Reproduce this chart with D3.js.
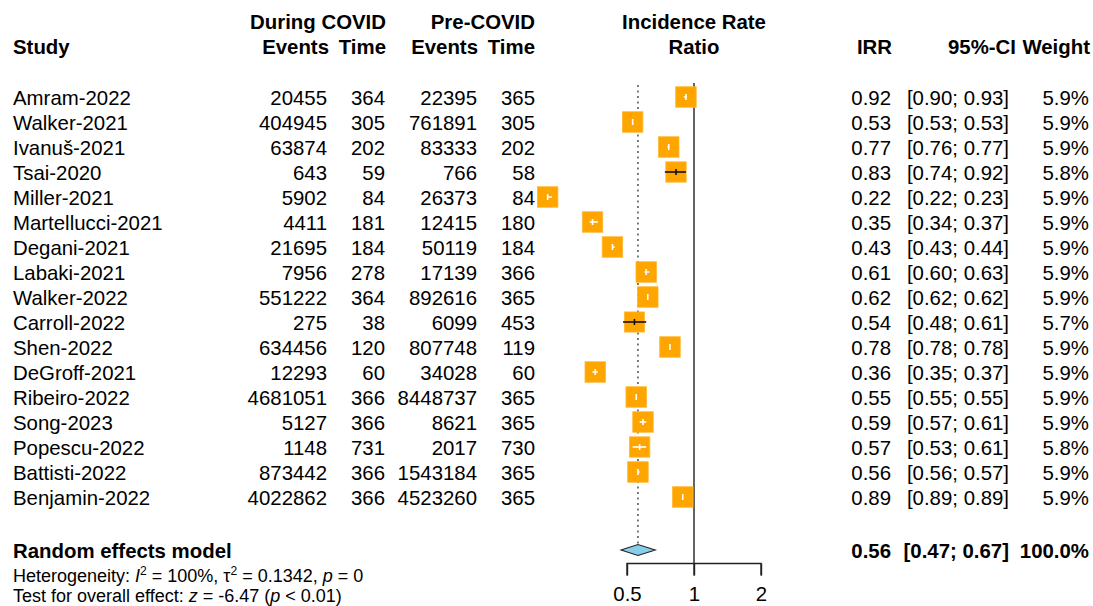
<!DOCTYPE html>
<html>
<head>
<meta charset="utf-8">
<script src="https://cdn.jsdelivr.net/npm/d3@7"></script>
<style>
  html, body { margin: 0; padding: 0; background: #fff; }
  svg { display: block; }
  text { font-family: "Liberation Sans", Arial, sans-serif; fill: #000; }
</style>
</head>
<body>
<svg id="chart" width="1093" height="606"></svg>
<script>
// Study-level data
const studies = ["Amram-2022","Walker-2021","Ivanuš-2021","Tsai-2020","Miller-2021","Martellucci-2021",
  "Degani-2021","Labaki-2021","Walker-2022","Carroll-2022","Shen-2022","DeGroff-2021","Ribeiro-2022",
  "Song-2023","Popescu-2022","Battisti-2022","Benjamin-2022"];
const duringEvents = [20455,404945,63874,643,5902,4411,21695,7956,551222,275,634456,12293,4681051,5127,1148,873442,4022862];
const duringTime   = [364,305,202,59,84,181,184,278,364,38,120,60,366,366,731,366,366];
const preEvents    = [22395,761891,83333,766,26373,12415,50119,17139,892616,6099,807748,34028,8448737,8621,2017,1543184,4523260];
const preTime      = [365,305,202,58,84,180,184,366,365,453,119,60,365,365,730,365,365];
const irr          = [0.92,0.53,0.77,0.83,0.22,0.35,0.43,0.61,0.62,0.54,0.78,0.36,0.55,0.59,0.57,0.56,0.89];
const ciLower      = [0.90,0.53,0.76,0.74,0.22,0.34,0.43,0.60,0.62,0.48,0.78,0.35,0.55,0.57,0.53,0.56,0.89];
const ciUpper      = [0.93,0.53,0.77,0.92,0.23,0.37,0.44,0.63,0.62,0.61,0.78,0.37,0.55,0.61,0.61,0.57,0.89];
const weights      = [5.9,5.9,5.9,5.8,5.9,5.9,5.9,5.9,5.9,5.7,5.9,5.9,5.9,5.9,5.8,5.9,5.9];

// Pooled random effects estimate
const pooled = { irr: 0.56, lower: 0.47, upper: 0.67, weight: 100.0 };
const axisTicks = [0.5, 1, 2];

const svg = d3.select("#chart");
const FS = 20.4;

const x = d3.scaleLog().domain([0.5, 2]).range([627, 761]);
const y = d3.scalePoint().domain(studies).range([97, 497]);
const boxSize = d3.scaleSqrt().domain([0, 5.9]).range([0, 20.5]);

const fmt2 = d3.format(".2f");
const fmt1 = d3.format(".1f");

// Column headers
const hdr = svg.append("g").attr("font-weight", "bold").style("font-size", FS + "px");
const headerRows = [
  { t: "During COVID", x: 386, y: 29, a: "end" },
  { t: "Pre-COVID", x: 535, y: 29, a: "end" },
  { t: "Incidence Rate", x: x(1), y: 29, a: "middle" },
  { t: "Study", x: 13, y: 54, a: "start" },
  { t: "Events", x: 329, y: 54, a: "end" },
  { t: "Time", x: 386, y: 54, a: "end" },
  { t: "Events", x: 478, y: 54, a: "end" },
  { t: "Time", x: 535, y: 54, a: "end" },
  { t: "Ratio", x: x(1), y: 54, a: "middle" },
  { t: "IRR", x: 892, y: 54, a: "end" },
  { t: "95%-CI", x: 1016, y: 54, a: "end" },
  { t: "Weight", x: 1090, y: 54, a: "end" }
];
hdr.selectAll("text").data(headerRows).join("text")
  .attr("x", d => d.x).attr("y", d => d.y).attr("text-anchor", d => d.a).text(d => d.t);

// Table columns
const rows = studies.map((s, i) => ({
  study: s, de: duringEvents[i], dt: duringTime[i], pe: preEvents[i], pt: preTime[i],
  irr: irr[i], lo: ciLower[i], hi: ciUpper[i], w: weights[i]
}));

const cols = [
  { x: 13,   a: "start", f: d => d.study },
  { x: 327,  a: "end",   f: d => d.de },
  { x: 385,  a: "end",   f: d => d.dt },
  { x: 477,  a: "end",   f: d => d.pe },
  { x: 535,  a: "end",   f: d => d.pt },
  { x: 891,  a: "end",   f: d => fmt2(d.irr) },
  { x: 1009, a: "end",   f: d => "[" + fmt2(d.lo) + "; " + fmt2(d.hi) + "]" },
  { x: 1089, a: "end",   f: d => fmt1(d.w) + "%" }
];
const tbl = svg.append("g").style("font-size", FS + "px");
cols.forEach(c => {
  tbl.append("g").selectAll("text").data(rows).join("text")
    .attr("x", c.x).attr("y", d => y(d.study) + 7.5)
    .attr("text-anchor", c.a).text(c.f);
});

// Reference lines: line of no effect and pooled estimate
svg.append("line")
  .attr("x1", x(1)).attr("x2", x(1)).attr("y1", 83).attr("y2", 575.5)
  .attr("stroke", "#222").attr("stroke-width", 1.4);
svg.append("line")
  .attr("x1", x(pooled.irr)).attr("x2", x(pooled.irr)).attr("y1", 85).attr("y2", 544)
  .attr("stroke", "#444").attr("stroke-width", 1.4).attr("stroke-dasharray", "2,3.5");

// Study squares with confidence intervals
const marks = svg.append("g");
rows.forEach(d => {
  const cx = x(d.irr), cy = y(d.study), s = boxSize(d.w);
  const x1 = x(d.lo), x2 = x(d.hi);
  const inside = x1 >= cx - s / 2 && x2 <= cx + s / 2;
  const col = inside ? "#fff" : "#111";
  marks.append("rect")
    .attr("x", cx - s / 2).attr("y", cy - s / 2).attr("width", s).attr("height", s)
    .attr("fill", "#FFA500").attr("stroke", "#FFB733").attr("stroke-width", 0.8);
  marks.append("line")
    .attr("x1", x1).attr("x2", Math.max(x2, x1 + 0.01)).attr("y1", cy).attr("y2", cy)
    .attr("stroke", col).attr("stroke-width", 1.6);
  marks.append("line")
    .attr("x1", cx).attr("x2", cx).attr("y1", cy - 3).attr("y2", cy + 3)
    .attr("stroke", col).attr("stroke-width", 1.6);
});

// Pooled diamond
const dy = y(studies[studies.length - 1]) + 53;
svg.append("path")
  .attr("d", `M${x(pooled.lower)},${dy} L${x(pooled.irr)},${dy - 5.5} L${x(pooled.upper)},${dy} L${x(pooled.irr)},${dy + 5.5} Z`)
  .attr("fill", "#87CEEB").attr("stroke", "#222").attr("stroke-width", 1.1);

// Pooled row text
const sum = svg.append("g").attr("font-weight", "bold").style("font-size", FS + "px");
sum.append("text").attr("x", 13).attr("y", dy + 7.5).text("Random effects model");
sum.append("text").attr("x", 891).attr("y", dy + 7.5).attr("text-anchor", "end").text(fmt2(pooled.irr));
sum.append("text").attr("x", 1009).attr("y", dy + 7.5).attr("text-anchor", "end")
  .text("[" + fmt2(pooled.lower) + "; " + fmt2(pooled.upper) + "]");
sum.append("text").attr("x", 1089).attr("y", dy + 7.5).attr("text-anchor", "end").text(fmt1(pooled.weight) + "%");

// Heterogeneity and overall effect statistics
const stat = svg.append("g").style("font-size", "18px");
const h = stat.append("text").attr("x", 13).attr("y", 582);
h.append("tspan").text("Heterogeneity: ");
h.append("tspan").attr("font-style", "italic").text("I");
h.append("tspan").attr("dy", -7).style("font-size", "12px").text("2");
h.append("tspan").attr("dy", 7).text(" = 100%, τ");
h.append("tspan").attr("dy", -7).style("font-size", "12px").text("2");
h.append("tspan").attr("dy", 7).text(" = 0.1342, ");
h.append("tspan").attr("font-style", "italic").text("p");
h.append("tspan").text(" = 0");

const t = stat.append("text").attr("x", 13).attr("y", 602);
t.append("tspan").text("Test for overall effect: ");
t.append("tspan").attr("font-style", "italic").text("z");
t.append("tspan").text(" = -6.47 (");
t.append("tspan").attr("font-style", "italic").text("p");
t.append("tspan").text(" < 0.01)");

// Log-scale axis
const axisG = svg.append("g").attr("transform", "translate(0,563.5)");
axisG.call(d3.axisBottom(x).tickValues(axisTicks).tickFormat(d => String(d)).tickSize(12).tickPadding(11))
  .call(g => g.select(".domain").attr("stroke", "#222").attr("stroke-width", 1.4).attr("d", `M${x(0.5)},12V0H${x(2)}V12`))
  .call(g => g.selectAll(".tick line").attr("stroke", "#222").attr("stroke-width", 1.4))
  .call(g => g.selectAll(".tick text").attr("font-family", "Liberation Sans, Arial, sans-serif")
    .style("font-size", FS + "px").attr("fill", "#000"));
</script>
</body>
</html>
